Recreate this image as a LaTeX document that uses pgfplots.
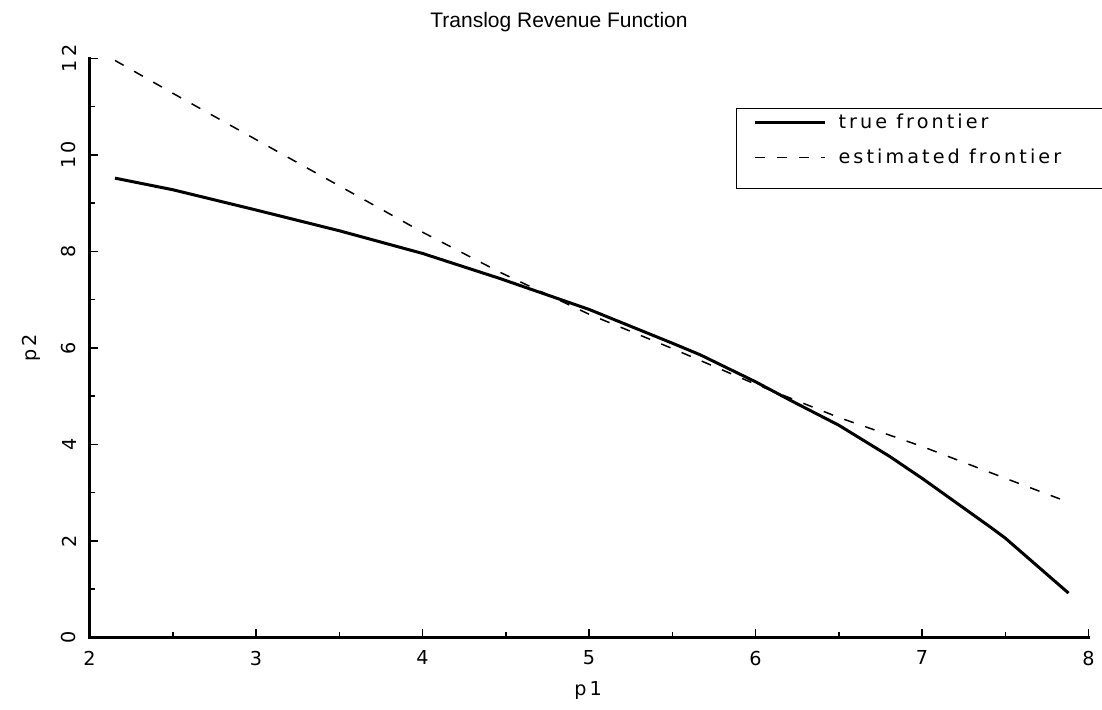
\documentclass[border=0pt]{standalone}
\usepackage{fontspec}
\setmainfont{Liberation Sans}
\newfontfamily\hfont[LetterSpace=16]{DejaVu Sans}
\usepackage{pgfplots}
\pgfplotsset{compat=1.18}
\begin{document}
\begin{tikzpicture}[x=1pt,y=1pt]
\path[use as bounding box] (0,0) rectangle (551,355);
\begin{axis}[
  at={(44.75pt,36.25pt)}, anchor=south west,
  scale only axis, width=499.5pt, height=289.5pt,
  xmin=2, xmax=8, ymin=0, ymax=12,
  axis lines*=left,
  axis line style={line width=1.5pt, line cap=rect},
  xtick={2,3,...,8}, ytick={0,2,...,12},
  minor x tick num=1, minor y tick num=1,
  tick align=inside,
  major tick length=4pt, minor tick length=2.5pt,
  every tick/.style={black, line width=0.75pt},
  /pgf/number format/assume math mode=true,
  tick label style={font=\hfont\fontsize{9.6}{11}\selectfont},
  xticklabel style={anchor=north, inner xsep=0pt, inner ysep=6.5pt},
  yticklabel style={rotate=90, anchor=south, inner xsep=0pt, inner ysep=6.5pt},
  xlabel={p1}, ylabel={p2},
  label style={font=\hfont\fontsize{9.6}{11}\selectfont},
  xlabel style={at={(axis description cs:0.499,-0.091)}, anchor=center},
  ylabel style={at={(axis description cs:-0.0586,0.5)}, anchor=center, rotate=0},
  title={Translog Revenue Function},
  title style={at={(axis description cs:0.470,1.0527)}, anchor=base, yshift=-6pt, font=\fontsize{10.5}{12}\selectfont},
  legend style={at={(axis description cs:0.647,0.9145)}, anchor=north west,
    draw=black, line width=0.75pt, inner xsep=8.5pt, inner ysep=3.75pt,
    row sep=2.5pt, column sep=0pt,
    nodes={inner sep=0pt, anchor=base west, text height=6.25pt, text depth=8.75pt},
    font=\hfont\fontsize{9.6}{11}\selectfont},
  legend cell align=left,
  legend image code/.code={\draw[#1] (0pt,3pt) -- (35pt,3pt);},
  clip=false,
]
\addplot[black, line width=1.5pt] table {
x y
2.153 9.52
2.5 9.28
3.0 8.86
3.5 8.43
4.0 7.96
4.465 7.44
5.0 6.80
5.5 6.10
5.667 5.86
6.0 5.30
6.207 4.92
6.5 4.40
6.807 3.75
7.0 3.30
7.41 2.29
7.5 2.06
7.88 0.92
};
\addlegendentry{\makebox[130pt][l]{\hspace{6pt}true frontier}}
\addplot[black, line width=0.75pt, dash pattern=on 5pt off 6pt] table {
x y
2.153 11.96
2.5 11.28
3.0 10.32
3.5 9.36
4.0 8.40
4.465 7.57
5.0 6.70
5.5 5.99
6.0 5.25
6.5 4.56
7.0 3.96
7.5 3.30
7.86 2.83
};
\addlegendentry{\makebox[130pt][l]{\hspace{6pt}estimated frontier}}
\end{axis}
\end{tikzpicture}
\end{document}
